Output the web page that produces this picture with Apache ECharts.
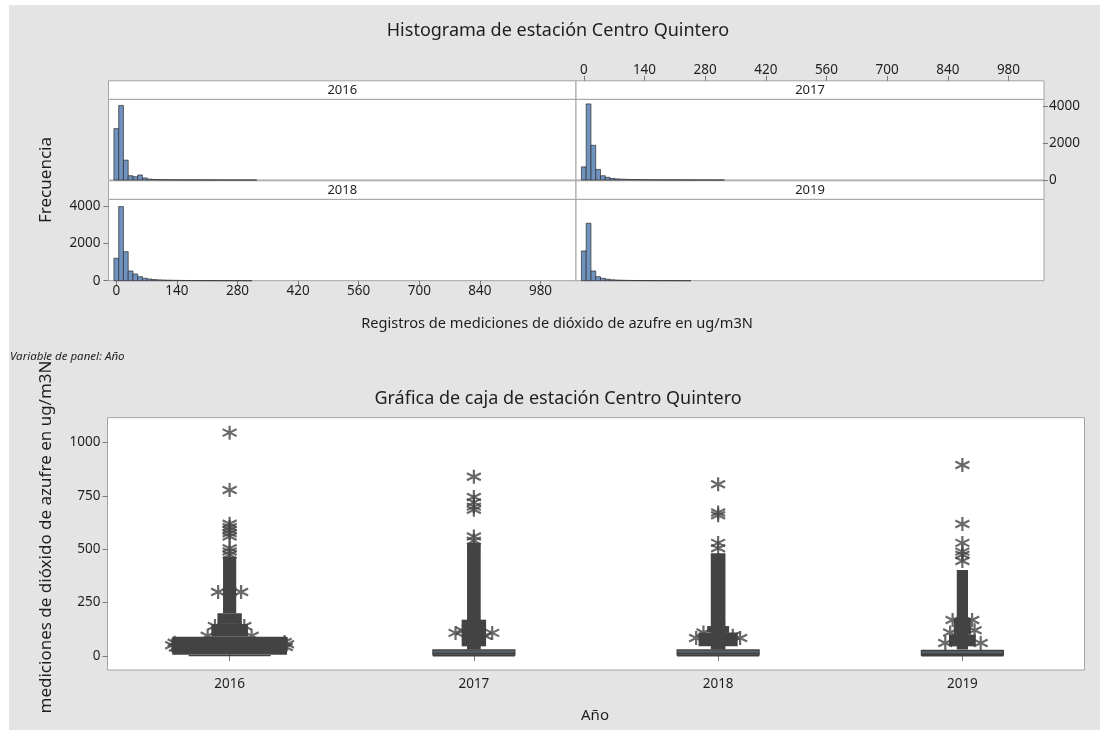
<!DOCTYPE html>
<html><head><meta charset="utf-8">
<script src="https://cdn.jsdelivr.net/npm/echarts@6/dist/echarts.min.js"></script>
<style>
html,body{margin:0;padding:0;background:#fff}
#wrap{position:relative;width:1106px;height:737px;background:#fff}
#bg{position:absolute;left:9px;top:5px;width:1091px;height:725px;background:#e4e4e4}
#c{position:absolute;left:0;top:0;width:1106px;height:737px}
</style>
</head><body><div id="wrap"><div id="bg"></div><div id="c"></div></div>
<script>
// ---------- data ----------
const years = ['2016', '2017', '2018', '2019'];
const histTickStep = 140, histTickMax = 980;      // tick labels 0,140,...,980
const freqTickStep = 2000, freqTickMax = 4000;    // tick labels 0,2000,4000
const boxTickStep = 250, boxTickMax = 1000;       // tick labels 0,250,...,1000
const binStart = -5.5, binWidth = 11;
const counts2016 = [2770, 4020, 1070, 230, 180, 270, 110, 45, 30, 22, 16, 12, 10, 8, 7, 6, 5, 4, 4, 3, 3, 2, 2, 2, 1, 1, 1, 1, 1, 1];
const counts2017 = [710, 4100, 1870, 570, 230, 145, 80, 60, 45, 35, 28, 22, 18, 15, 12, 10, 8, 7, 6, 5, 4, 4, 3, 3, 2, 2, 2, 1, 1, 1];
const counts2018 = [1200, 3960, 1550, 520, 360, 215, 130, 90, 60, 45, 35, 28, 22, 18, 14, 11, 9, 7, 6, 5, 4, 3, 3, 2, 2, 2, 1, 1, 1];
const counts2019 = [1590, 3070, 520, 215, 130, 80, 50, 35, 25, 18, 14, 11, 9, 7, 5, 4, 3, 3, 2, 2, 1, 1, 1];
// box summary per year: [lower whisker, Q1, median, Q3, upper whisker end]
const boxStats = [
  [1, 12, 25, 45, 46],
  [0, 5, 12, 28, 29],
  [0, 5, 12, 28, 29],
  [0, 4, 10, 25, 26]
];
// dense runs of overlapping outliers: [yearIndex, low, high, half spread (in categories)]
const denseRanges = [
  [0, 5, 90, 0.235], [0, 90, 150, 0.075], [0, 150, 200, 0.05], [0, 200, 465, 0.027],
  [1, 30, 530, 0.028], [1, 45, 170, 0.05],
  [2, 30, 482, 0.03], [2, 45, 110, 0.08], [2, 110, 140, 0.045],
  [3, 30, 403, 0.023], [3, 45, 100, 0.055], [3, 100, 178, 0.035]
];
// individual outliers: [yearIndex, jitter offset, value]
const outliers = [
  [0, 0, 1047], [0, 0, 778], [0, 0, 620], [0, 0, 605], [0, 0, 590], [0, 0, 575], [0, 0, 560], [0, 0, 505], [0, 0, 490], [0, 0, 475],
  [0, -0.047, 300], [0, 0.047, 300], [0, 0, 300], [0, -0.06, 140], [0, 0.06, 140], [0, -0.09, 95], [0, 0.09, 95],
  [0, -0.235, 50], [0, -0.225, 62], [0, 0.235, 55], [0, 0.225, 65], [0, -0.22, 40], [0, 0.23, 42],
  [1, 0, 840], [1, 0, 745], [1, 0, 720], [1, 0, 700], [1, 0, 685], [1, 0, 560], [1, 0, 540],
  [1, -0.075, 108], [1, 0.075, 108], [1, -0.045, 118], [1, 0.045, 95], [1, 0, 130],
  [2, 0, 805], [2, 0, 672], [2, 0, 660], [2, 0, 530], [2, 0, 505],
  [2, -0.09, 84], [2, 0.09, 84], [2, -0.06, 110], [2, 0.06, 95], [2, 0, 140],
  [3, 0, 895], [3, 0, 619], [3, 0, 530], [3, 0, 489], [3, 0, 474], [3, 0, 445],
  [3, -0.07, 61], [3, 0.075, 61], [3, -0.04, 168], [3, 0.04, 168], [3, -0.05, 110], [3, 0.05, 120]
];

// ---------- layout / style ----------
const FONT = 'Noto Sans';
const TXT = '#1e1e1e';
const LINE = '#a3a3a3';
const TICK = '#7a7a7a';
const HL = 108.5, HM = 576, HR = 1044;
const HT1 = 99.3, HB1 = 180, HT2 = 199.3, HB2 = 280.7, STRIP = 18.5;
const XMIN = -18, XMAX = 1062, FMAX = 4350;
const BYMIN = -66, BYMAX = 1117;
const panels = [
  {left: HL, top: HT1, width: HM - HL, height: HB1 - HT1},
  {left: HM, top: HT1, width: HR - HM, height: HB1 - HT1},
  {left: HL, top: HT2, width: HM - HL, height: HB2 - HT2},
  {left: HM, top: HT2, width: HR - HM, height: HB2 - HT2}
];
const boxGrid = {left: 107.5, top: 417.7, width: 977, height: 252.3};

// axis-only grids aligned with the data panels (so ticks start exactly at 0)
function xSpan(p, v0, v1) { const s = p.width / (XMAX - XMIN); return {left: p.left + (v0 - XMIN) * s, width: (v1 - v0) * s}; }
function ySpan(p, fmax, v0, v1, vmin) { const s = p.height / (fmax - vmin); const bottom = p.top + p.height; return {top: bottom - (v1 - vmin) * s, height: (v1 - v0) * s}; }
const topAxisGrid = Object.assign({top: HT1 - STRIP - 1, height: 1}, xSpan(panels[1], 0, histTickMax));
const bottomAxisGrid = Object.assign({top: HB2 - 1, height: 1}, xSpan(panels[2], 0, histTickMax));
const rightAxisGrid = Object.assign({left: HR - 1, width: 1}, ySpan(panels[1], FMAX, 0, freqTickMax, 0));
const leftAxisGrid = Object.assign({left: HL, width: 1}, ySpan(panels[2], FMAX, 0, freqTickMax, 0));
const boxAxisGrid = Object.assign({left: boxGrid.left, width: 1}, ySpan(boxGrid, BYMAX, 0, boxTickMax, BYMIN));

function binData(counts) {
  return counts.map((c, i) => [binStart + i * binWidth, binStart + (i + 1) * binWidth, c]);
}
const histCounts = [counts2016, counts2017, counts2018, counts2019];

const framed = p => Object.assign({show: true, backgroundColor: '#fff', borderColor: LINE, borderWidth: 1}, p);
const bare = p => Object.assign({show: false}, p);
const grids = panels.map(framed);
grids.push(framed(boxGrid));                 // 4
grids.push(bare(topAxisGrid));               // 5
grids.push(bare(bottomAxisGrid));            // 6
grids.push(bare(rightAxisGrid));             // 7
grids.push(bare(leftAxisGrid));              // 8
grids.push(bare(boxAxisGrid));               // 9

const plain = v => String(v);
const lab = {fontFamily: FONT, fontSize: 13.5, color: TXT, formatter: plain};
const hiddenVal = (g, min, max) => ({type: 'value', gridIndex: g, min: min, max: max, show: false});
function tickAxis(g, pos, max, step, margin) {
  return {type: 'value', gridIndex: g, min: 0, max: max, interval: step, position: pos,
    axisLine: {show: false}, splitLine: {show: false},
    axisTick: {show: true, length: 5, lineStyle: {color: TICK}},
    axisLabel: Object.assign({margin: margin}, lab)};
}
const xAxes = [
  hiddenVal(0, XMIN, XMAX), hiddenVal(1, XMIN, XMAX), hiddenVal(2, XMIN, XMAX), hiddenVal(3, XMIN, XMAX),
  {type: 'category', gridIndex: 4, data: years, boundaryGap: true,
   axisLine: {show: false}, axisTick: {show: true, alignWithLabel: true, length: 5, lineStyle: {color: TICK}},
   axisLabel: Object.assign({margin: 7}, lab)},
  hiddenVal(4, -0.5, 3.5),                                  // 5: jitter axis for outliers
  tickAxis(5, 'top', histTickMax, histTickStep, 3),         // 6
  tickAxis(6, 'bottom', histTickMax, histTickStep, 3),      // 7
  hiddenVal(7, 0, 1), hiddenVal(8, 0, 1), hiddenVal(9, 0, 1)
];
const yAxes = [
  hiddenVal(0, 0, FMAX), hiddenVal(1, 0, FMAX), hiddenVal(2, 0, FMAX), hiddenVal(3, 0, FMAX),
  hiddenVal(4, BYMIN, BYMAX),
  hiddenVal(5, 0, 1), hiddenVal(6, 0, 1),
  tickAxis(7, 'right', freqTickMax, freqTickStep, 5),       // 7
  tickAxis(8, 'left', freqTickMax, freqTickStep, 8),        // 8
  tickAxis(9, 'left', boxTickMax, boxTickStep, 7)           // 9
];

const histSeries = histCounts.map((cnt, i) => ({
  type: 'custom', xAxisIndex: i, yAxisIndex: i, data: binData(cnt),
  encode: {x: [0, 1], y: 2},
  renderItem: function (params, api) {
    const p0 = api.coord([api.value(0), api.value(2)]);
    const p1 = api.coord([api.value(1), 0]);
    return {type: 'rect', shape: {x: p0[0], y: p0[1], width: p1[0] - p0[0], height: p1[1] - p0[1]},
      style: {fill: '#7092be', stroke: '#2e2e2e', lineWidth: 0.7}};
  }
}));

const STAR = 'path://M0,-10L0,10M-8.66,-5L8.66,5M-8.66,5L8.66,-5';
const DARK = '#434343';

const series = histSeries.concat([
  {type: 'boxplot', xAxisIndex: 4, yAxisIndex: 4, data: boxStats, boxWidth: [82, 82], z: 2,
   itemStyle: {color: '#56616d', borderColor: '#404040', borderWidth: 1.2}},
  {type: 'custom', xAxisIndex: 5, yAxisIndex: 4, data: denseRanges, z: 3,
   encode: {x: 0, y: [1, 2]},
   renderItem: function (params, api) {
     const idx = api.value(0), s = api.value(3);
     const p0 = api.coord([idx - s, api.value(2)]);
     const p1 = api.coord([idx + s, api.value(1)]);
     return {type: 'rect', shape: {x: p0[0], y: p0[1], width: p1[0] - p0[0], height: p1[1] - p0[1]},
       style: {fill: DARK}};
   }},
  {type: 'scatter', xAxisIndex: 5, yAxisIndex: 4, data: outliers.map(o => [o[0] + o[1], o[2]]), z: 4,
   symbol: STAR, symbolSize: 14,
   itemStyle: {color: 'rgba(0,0,0,0)', borderColor: DARK, borderWidth: 2.2}, silent: true}
]);

// ---------- texts & strips ----------
const graphic = [];
const stripLabels = [['2016', HL, HT1 - STRIP, HM - HL], ['2017', HM, HT1 - STRIP, HR - HM],
                     ['2018', HL, HT2 - STRIP, HM - HL], ['2019', HM, HT2 - STRIP, HR - HM]];
stripLabels.forEach(s => {
  graphic.push({type: 'rect', shape: {x: s[1], y: s[2], width: s[3], height: STRIP}, style: {fill: '#fff', stroke: LINE, lineWidth: 1}});
  graphic.push({type: 'text', x: s[1] + s[3] / 2, y: s[2] + STRIP / 2 + 0.5,
    style: {text: s[0], align: 'center', verticalAlign: 'middle', font: '13px "' + FONT + '"', fill: TXT}});
});
function txt(t, x, y, size, opt) {
  return Object.assign({type: 'text', x: x, y: y,
    style: {text: t, align: 'center', verticalAlign: 'middle', font: size + 'px "' + FONT + '"', fill: TXT}}, opt || {});
}
graphic.push(txt('Histograma de estación Centro Quintero', 558, 31, 18));
graphic.push(txt('Frecuencia', 46, 180, 17, {rotation: Math.PI / 2}));
graphic.push(txt('Registros de mediciones de dióxido de azufre en ug/m3N', 557, 324, 14.6));
graphic.push({type: 'text', x: 10, y: 357, style: {text: 'Variable de panel: Año', align: 'left', verticalAlign: 'middle', font: 'italic 11.5px "' + FONT + '"', fill: TXT}});
graphic.push(txt('Gráfica de caja de estación Centro Quintero', 558, 399, 18));
graphic.push(txt('mediciones de dióxido de azufre en ug/m3N', 46, 537, 17, {rotation: Math.PI / 2}));
graphic.push(txt('Año', 595, 716, 15));

const chart = echarts.init(document.getElementById('c'), null, {renderer: 'canvas'});
chart.setOption({
  animation: false,
  backgroundColor: 'transparent',
  grid: grids,
  xAxis: xAxes,
  yAxis: yAxes,
  series: series,
  graphic: graphic
});
</script>
</body></html>
